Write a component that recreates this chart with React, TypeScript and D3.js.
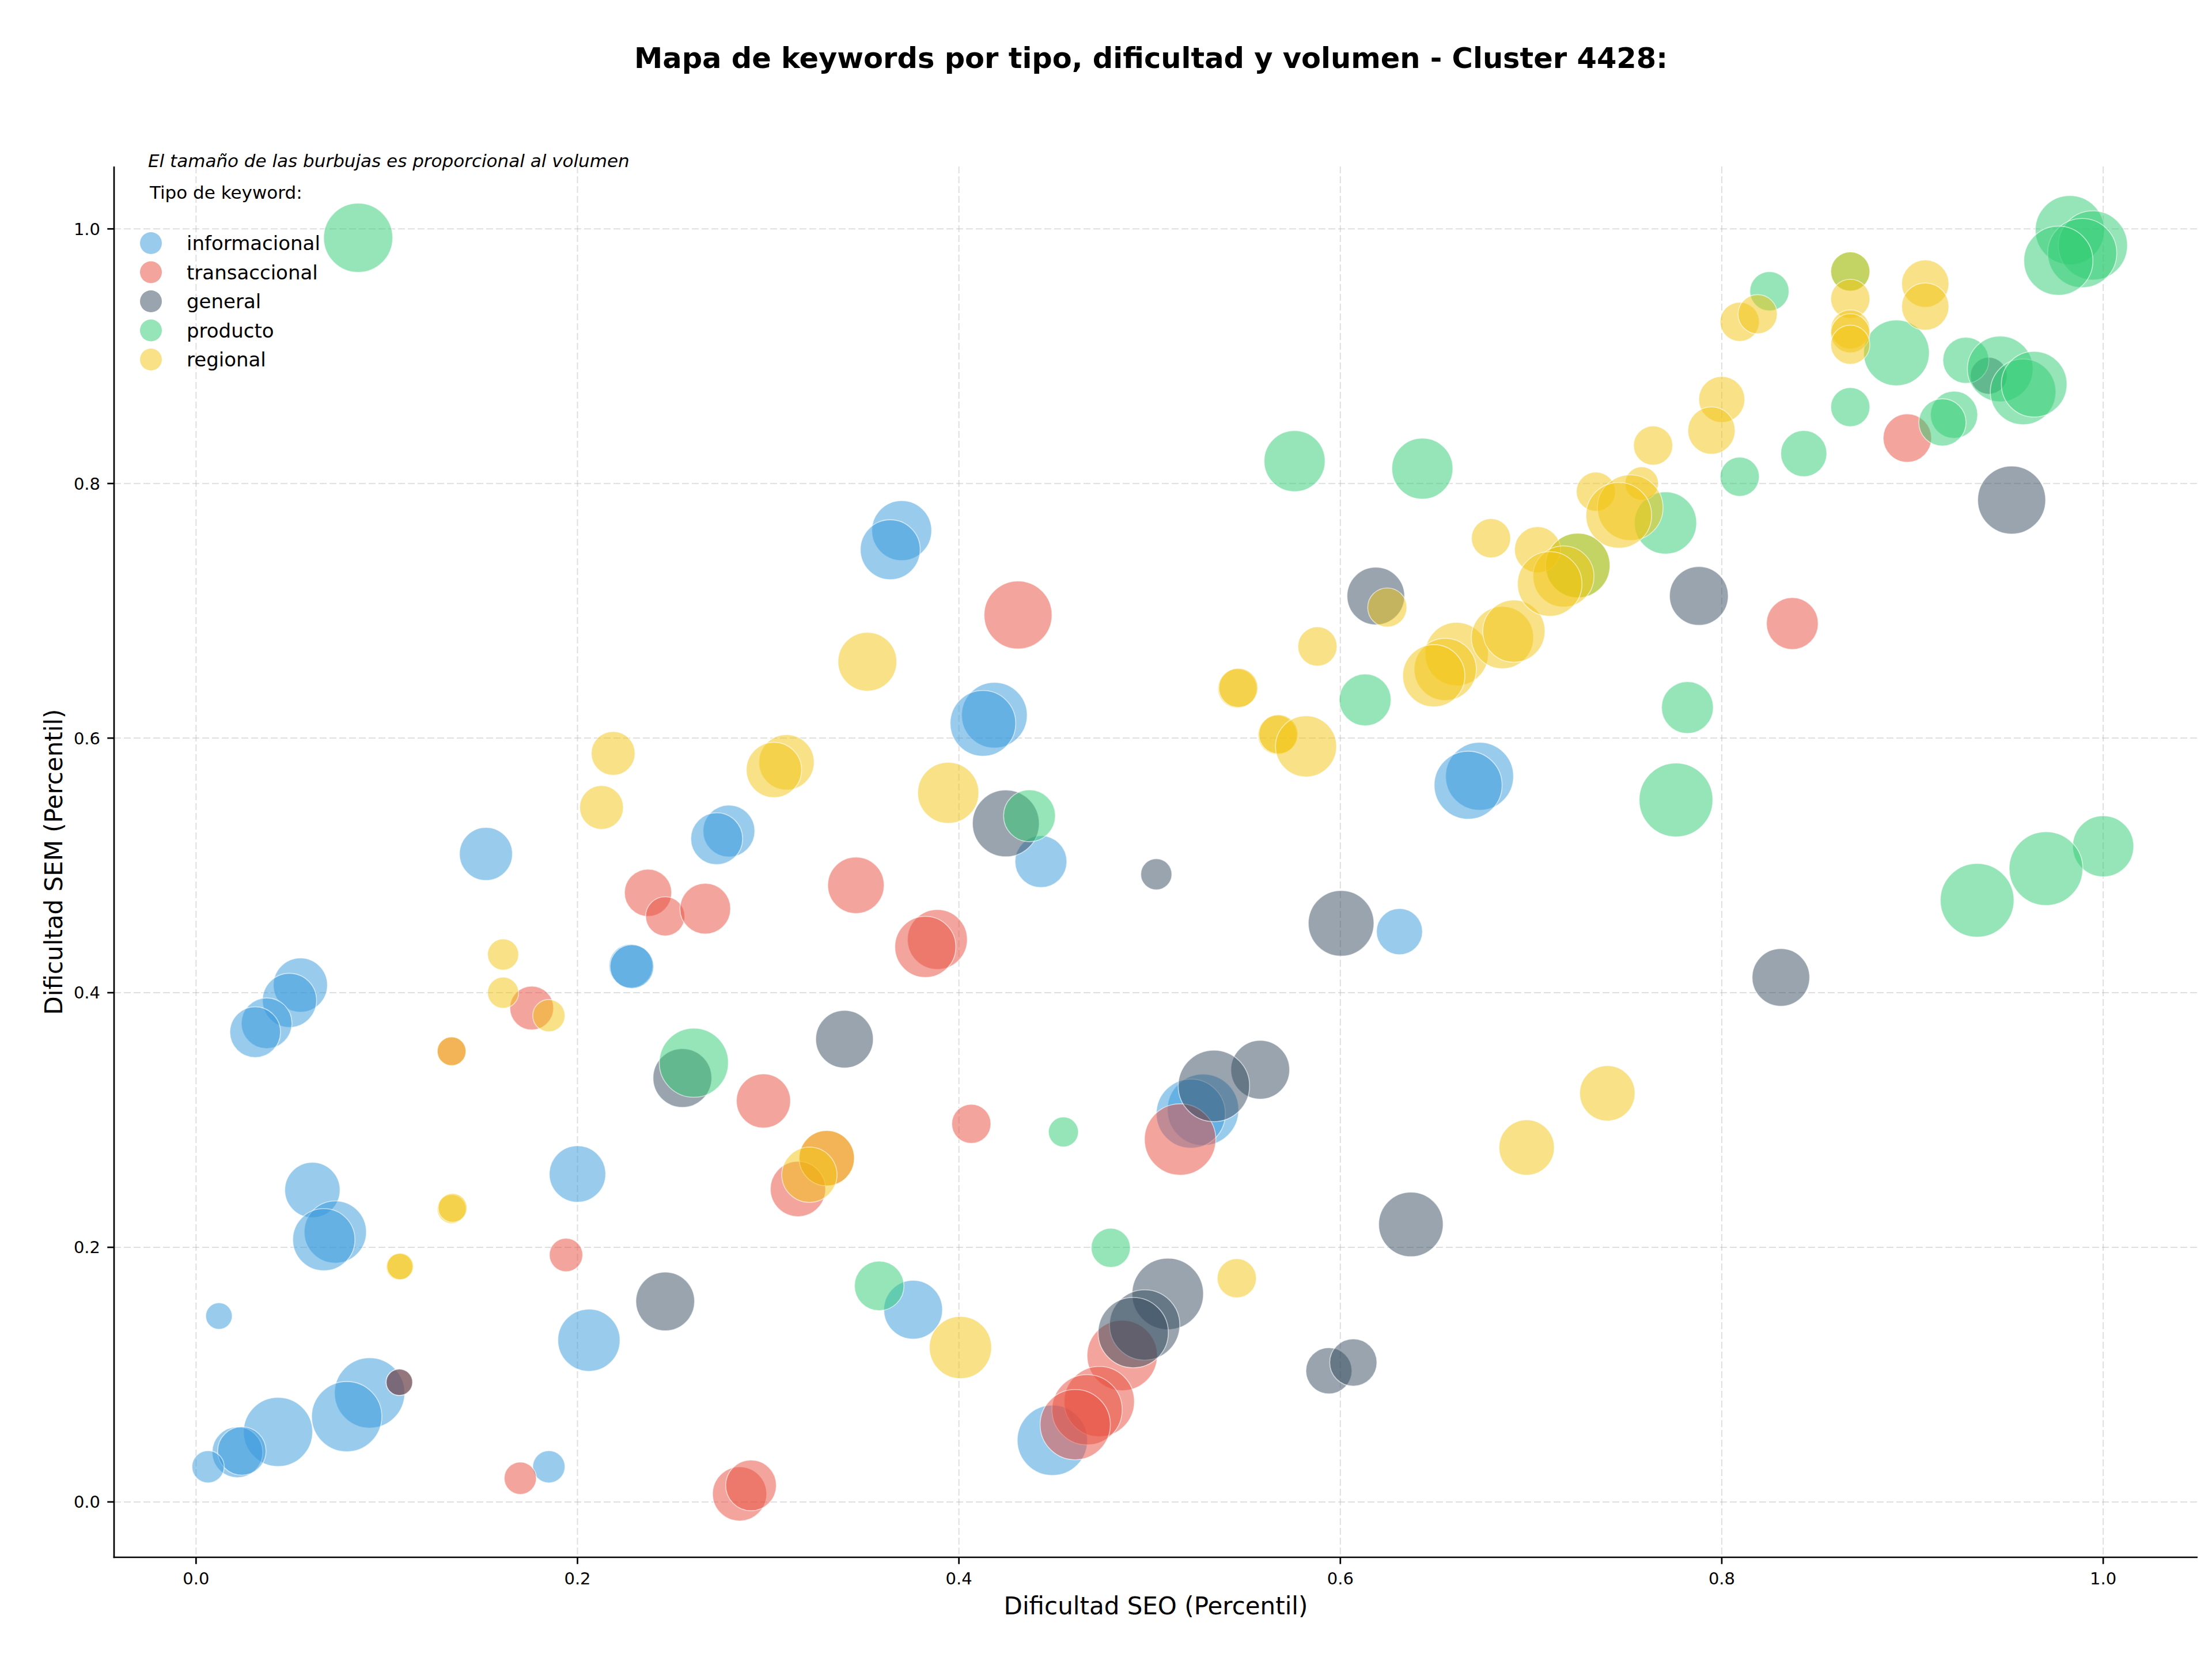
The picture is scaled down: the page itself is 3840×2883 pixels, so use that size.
import React from "react";
import * as d3 from "d3";

// [Dificultad SEO, Dificultad SEM, volumen]
const informacional: [number, number, number][] = [
  [0.0547, 0.406, 4418], [0.049, 0.394, 4418], [0.037, 0.376, 3872], [0.031, 0.369, 3872],
  [0.061, 0.245, 4608], [0.073, 0.212, 5832], [0.067, 0.206, 5832], [0.012, 0.146, 1058],
  [0.091, 0.0856, 7442], [0.079, 0.067, 7442], [0.043, 0.055, 7200], [0.0217, 0.039, 3872],
  [0.024, 0.04, 3528], [0.0063, 0.0276, 1568], [0.2, 0.2576, 4802], [0.206, 0.127, 5832],
  [0.185, 0.0276, 1568], [0.228, 0.421, 2888], [0.2285, 0.4205, 2888], [0.152, 0.509, 4232],
  [0.2794, 0.527, 4050], [0.273, 0.521, 4050], [0.37, 0.763, 5408], [0.364, 0.748, 5408],
  [0.4186, 0.618, 6498], [0.4126, 0.6116, 6498], [0.443, 0.503, 4050], [0.673, 0.57, 6962],
  [0.667, 0.563, 6962], [0.631, 0.448, 3200], [0.528, 0.308, 7688], [0.5216, 0.305, 7200],
  [0.376, 0.151, 5202], [0.449, 0.0484, 7442],
];

const transaccional: [number, number, number][] = [
  [0.134, 0.354, 1250], [0.1066, 0.094, 1058], [0.176, 0.388, 2888], [0.194, 0.194, 1682],
  [0.17, 0.0186, 1568], [0.237, 0.4785, 3362], [0.246, 0.46, 2312], [0.267, 0.466, 3872],
  [0.2975, 0.315, 4418], [0.285, 0.0063, 4418], [0.291, 0.013, 3872], [0.431, 0.6967, 6962],
  [0.346, 0.4844, 4802], [0.3887, 0.4418, 5408], [0.3824, 0.436, 5618], [0.4065, 0.297, 2312],
  [0.3307, 0.27, 4608], [0.3156, 0.2458, 4608], [0.516, 0.2847, 7688], [0.4856, 0.115, 7442],
  [0.4736, 0.0788, 7442], [0.4672, 0.0724, 7442], [0.461, 0.0607, 7442], [0.8973, 0.8357, 3528],
  [0.837, 0.69, 4050],
];

const general: [number, number, number][] = [
  [0.1066, 0.094, 1058], [0.255, 0.333, 5202], [0.246, 0.1575, 5202], [0.4246, 0.533, 6728],
  [0.5035, 0.493, 1458], [0.6186, 0.7116, 5000], [0.94, 0.8846, 2048], [0.952, 0.787, 6962],
  [0.788, 0.7117, 5202], [0.831, 0.412, 5000], [0.6004, 0.4545, 6498], [0.34, 0.3635, 5000],
  [0.558, 0.3395, 5202], [0.5337, 0.3268, 7688], [0.637, 0.218, 6272], [0.5095, 0.1634, 7688],
  [0.4974, 0.139, 7442], [0.4914, 0.133, 7442], [0.594, 0.103, 3200], [0.6068, 0.1095, 3362],
];

const producto: [number, number, number][] = [
  [0.085, 0.993, 7200], [0.261, 0.345, 7200], [0.576, 0.8176, 5618], [0.643, 0.8117, 5618],
  [0.437, 0.539, 4050], [0.613, 0.63, 4050], [0.9825, 0.999, 7200], [0.9946, 0.987, 7200],
  [0.989, 0.981, 7200], [0.9765, 0.975, 7200], [0.825, 0.951, 2312], [0.8674, 0.9665, 2312],
  [0.8916, 0.9026, 6498], [0.928, 0.8968, 3200], [0.946, 0.89, 6498], [0.958, 0.872, 6498],
  [0.9638, 0.878, 6498], [0.9218, 0.854, 3362], [0.9157, 0.848, 3362], [0.8674, 0.86, 2312],
  [0.843, 0.8235, 3200], [0.8094, 0.8053, 2312], [0.7705, 0.769, 5832], [0.7245, 0.7356, 6272],
  [0.782, 0.624, 4050], [0.776, 0.5514, 8192], [1.0, 0.515, 5618], [0.97, 0.4975, 8192],
  [0.9339, 0.4726, 8192], [0.4548, 0.2906, 1352], [0.4796, 0.1996, 2312], [0.3582, 0.1697, 3698],
];

const regional: [number, number, number][] = [
  [0.161, 0.43, 1458], [0.161, 0.4, 1458], [0.185, 0.382, 1568], [0.134, 0.354, 1250],
  [0.134, 0.23, 1250], [0.1345, 0.231, 1250], [0.1066, 0.1847, 1058], [0.107, 0.185, 1058],
  [0.2187, 0.588, 2888], [0.2126, 0.5455, 2888], [0.3096, 0.581, 4608], [0.303, 0.575, 4608],
  [0.352, 0.66, 5202], [0.3944, 0.557, 5618], [0.679, 0.757, 2312], [0.6246, 0.7026, 2312],
  [0.588, 0.672, 2312], [0.546, 0.639, 2312], [0.5465, 0.6395, 2312], [0.567, 0.6025, 2312],
  [0.5675, 0.603, 2312], [0.582, 0.5935, 5618], [0.661, 0.666, 6050], [0.655, 0.654, 5832],
  [0.649, 0.649, 5832], [0.685, 0.679, 5832], [0.691, 0.684, 5832], [0.8674, 0.9665, 2312],
  [0.8674, 0.945, 2312], [0.8674, 0.921, 2312], [0.8674, 0.918, 2312], [0.8674, 0.909, 2312],
  [0.9067, 0.957, 3362], [0.9067, 0.939, 3362], [0.8094, 0.927, 2312], [0.8188, 0.933, 2312],
  [0.8, 0.866, 3200], [0.7946, 0.8416, 3362], [0.764, 0.8298, 2312], [0.758, 0.8, 1682],
  [0.734, 0.7936, 2312], [0.752, 0.781, 6498], [0.746, 0.775, 6498], [0.7034, 0.748, 3200],
  [0.7245, 0.7356, 6272], [0.717, 0.727, 5618], [0.7098, 0.7211, 6272], [0.74, 0.321, 4608],
  [0.6977, 0.2784, 4608], [0.3307, 0.27, 4608], [0.3216, 0.257, 4608], [0.4008, 0.1213, 5832],
  [0.5457, 0.1757, 2312],
];

const tipos = ["informacional", "transaccional", "general", "producto", "regional"];
const colores = ["#3498db", "#e74c3c", "#34495e", "#2ecc71", "#f1c40f"];
const series = [informacional, transaccional, general, producto, regional];
const ticks = [0, 0.2, 0.4, 0.6, 0.8, 1.0];

const W = 3840;
const H = 2883;
const L = 198, R = 3815, T = 289, B = 2703;
const FONT = "DejaVu Sans, sans-serif";

export default function App() {
  const x = d3.scaleLinear().domain([-0.043, 1.0495]).range([L, R]);
  const y = d3.scaleLinear().domain([-0.0435, 1.049]).range([B, T]);
  const r = d3.scaleSqrt().domain([0, 8000]).range([0, 63.2]);
  const fmt = d3.format(".1f");

  return (
    <svg width={W} height={H} style={{ position: "absolute", left: 0, top: 0, background: "#fff" }} fontFamily={FONT}>
      <rect x={0} y={0} width={W} height={H} fill="#fff" />
      {/* grid */}
      <g stroke="#b0b0b0" strokeOpacity={0.4} strokeWidth={2} strokeDasharray="12,5">
        {ticks.map((t) => (
          <line key={"gx" + t} x1={x(t)} x2={x(t)} y1={T} y2={B} />
        ))}
        {ticks.map((t) => (
          <line key={"gy" + t} x1={L} x2={R} y1={y(t)} y2={y(t)} />
        ))}
      </g>
      {/* bubbles */}
      {series.map((s, i) => (
        <g key={tipos[i]}>
          {s.map((d, j) => (
            <circle
              key={j}
              cx={x(d[0])}
              cy={y(d[1])}
              r={r(d[2])}
              fill={colores[i]}
              fillOpacity={0.5}
              stroke="#ffffff"
              strokeOpacity={0.6}
              strokeWidth={1.6}
            />
          ))}
        </g>
      ))}
      {/* spines */}
      <line x1={L} x2={L} y1={T} y2={B + 1.35} stroke="#000" strokeWidth={2.7} />
      <line x1={L - 1.35} x2={R} y1={B} y2={B} stroke="#000" strokeWidth={2.7} />
      {/* x ticks */}
      {ticks.map((t) => (
        <g key={"xt" + t}>
          <line x1={x(t)} x2={x(t)} y1={B} y2={B + 11.7} stroke="#000" strokeWidth={2.7} />
          <text x={x(t)} y={B + 47} fontSize={29} textAnchor="middle" fill="#000">{fmt(t)}</text>
        </g>
      ))}
      {/* y ticks */}
      {ticks.map((t) => (
        <g key={"yt" + t}>
          <line x1={L} x2={L - 11.7} y1={y(t)} y2={y(t)} stroke="#000" strokeWidth={2.7} />
          <text x={L - 24} y={y(t)} dy="0.36em" fontSize={29} textAnchor="end" fill="#000">{fmt(t)}</text>
        </g>
      ))}
      {/* axis labels */}
      <text x={(L + R) / 2} y={2802} fontSize={42} textAnchor="middle" fill="#000">Dificultad SEO (Percentil)</text>
      <text transform={`translate(108, ${(T + B) / 2}) rotate(-90)`} fontSize={42} textAnchor="middle" fill="#000">Dificultad SEM (Percentil)</text>
      {/* title */}
      <text x={1998} y={118} fontSize={49.5} fontWeight="bold" textAnchor="middle" fill="#000">
        Mapa de keywords por tipo, dificultad y volumen - Cluster 4428:
      </text>
      {/* note */}
      <text x={257} y={290} fontSize={31} fontStyle="italic" fill="#000">El tamaño de las burbujas es proporcional al volumen</text>
      {/* legend */}
      <text x={260} y={345} fontSize={31} fill="#000">Tipo de keyword:</text>
      {tipos.map((t, i) => {
        const cy = 422 + i * 50.5;
        return (
          <g key={"lg" + t}>
            <circle cx={262} cy={cy} r={19} fill={colores[i]} fillOpacity={0.5} />
            <text x={324} y={cy} dy="0.36em" fontSize={34} fill="#000">{t}</text>
          </g>
        );
      })}
    </svg>
  );
}
